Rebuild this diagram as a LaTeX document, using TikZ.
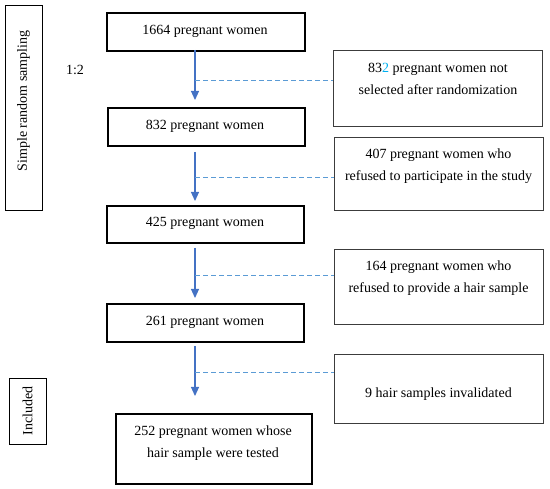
\documentclass[tikz,border=0pt]{standalone}
\usepackage{fontspec}
\setmainfont{Liberation Serif}
\usetikzlibrary{arrows.meta}
\definecolor{arrblue}{RGB}{68,114,196}
\definecolor{dashblue}{RGB}{91,155,213}
\definecolor{numblue}{RGB}{0,176,240}
\definecolor{rgray}{RGB}{60,60,60}
\begin{document}
\begin{tikzpicture}[x=1pt,y=-1pt,
  every node/.style={font=\fontsize{14}{22}\selectfont, inner sep=0pt},
  mainbox/.style={draw=black, line width=1.8pt, anchor=north west},
  sidebox/.style={draw=rgray, line width=1.3pt, anchor=north west},
  leftbox/.style={draw=black, line width=1.3pt, anchor=north west},
  flow/.style={draw=arrblue, line width=1.1pt, -{Triangle[length=9pt,width=8pt]}},
  dashline/.style={draw=dashblue, line width=1pt, dash pattern=on 5pt off 3pt},
  txt/.style={align=center}]
\useasboundingbox (0,0) rectangle (550,489);
% left boxes
\node[leftbox, minimum width=37pt, minimum height=205pt] (srs) at (5,5) {};
\node[rotate=90] (srst) at (23.5,101) {Simple random sampling};
\node (ratio) at (75,70) {1:2};
\node[leftbox, minimum width=37pt, minimum height=66pt] (inc) at (9,378) {};
\node[rotate=90] (inct) at (27.5,411) {Included};
% main boxes
\node[mainbox, minimum width=198pt, minimum height=38pt] (b1) at (106,12) {};
\node (b1t) at (205,31) {1664 pregnant women};
\node[mainbox, minimum width=197pt, minimum height=38pt] (b2) at (107,107) {};
\node (b2t) at (205,126) {832 pregnant women};
\node[mainbox, minimum width=197pt, minimum height=37pt] (b3) at (106,205) {};
\node (b3t) at (205,223.5) {425 pregnant women};
\node[mainbox, minimum width=197pt, minimum height=38pt] (b4) at (106,303) {};
\node (b4t) at (205,322) {261 pregnant women};
\node[mainbox, minimum width=196pt, minimum height=70pt] (b5) at (115,413) {};
\node[txt] (b5t) at (213,443.5) {252 pregnant women whose\\hair sample were tested};
% side boxes
\node[sidebox, minimum width=209pt, minimum height=76pt] (r1) at (333,50) {};
\node[txt] (r1t) at (438,79) {83\textcolor{numblue}{2} pregnant women not\\selected after randomization};
\node[sidebox, minimum width=209pt, minimum height=73pt] (r2) at (334,137) {};
\node[txt] (r2t) at (438.5,166.5) {407 pregnant women who\\refused to participate in the study};
\node[sidebox, minimum width=209pt, minimum height=75pt] (r3) at (334,249) {};
\node[txt] (r3t) at (438.5,278.5) {164 pregnant women who\\refused to provide a hair sample};
\node[sidebox, minimum width=209pt, minimum height=69pt] (r4) at (334,354) {};
\node (r4t) at (438.5,394) {9 hair samples invalidated};
% arrows
\coordinate (a1s) at (195,50);  \coordinate (a1e) at (195,100);
\coordinate (a2s) at (195,152); \coordinate (a2e) at (195,201);
\coordinate (a3s) at (195,248); \coordinate (a3e) at (195,298);
\coordinate (a4s) at (195,346); \coordinate (a4e) at (195,396);
\draw[flow] (a1s) -- (a1e);
\draw[flow] (a2s) -- (a2e);
\draw[flow] (a3s) -- (a3e);
\draw[flow] (a4s) -- (a4e);
\coordinate (d1) at (195,81);  \draw[dashline] (d1) -- (r1.west |- d1);
\coordinate (d2) at (195,178); \draw[dashline] (d2) -- (r2.west |- d2);
\coordinate (d3) at (195,276); \draw[dashline] (d3) -- (r3.west |- d3);
\coordinate (d4) at (195,373); \draw[dashline] (d4) -- (r4.west |- d4);
\end{tikzpicture}
\end{document}
